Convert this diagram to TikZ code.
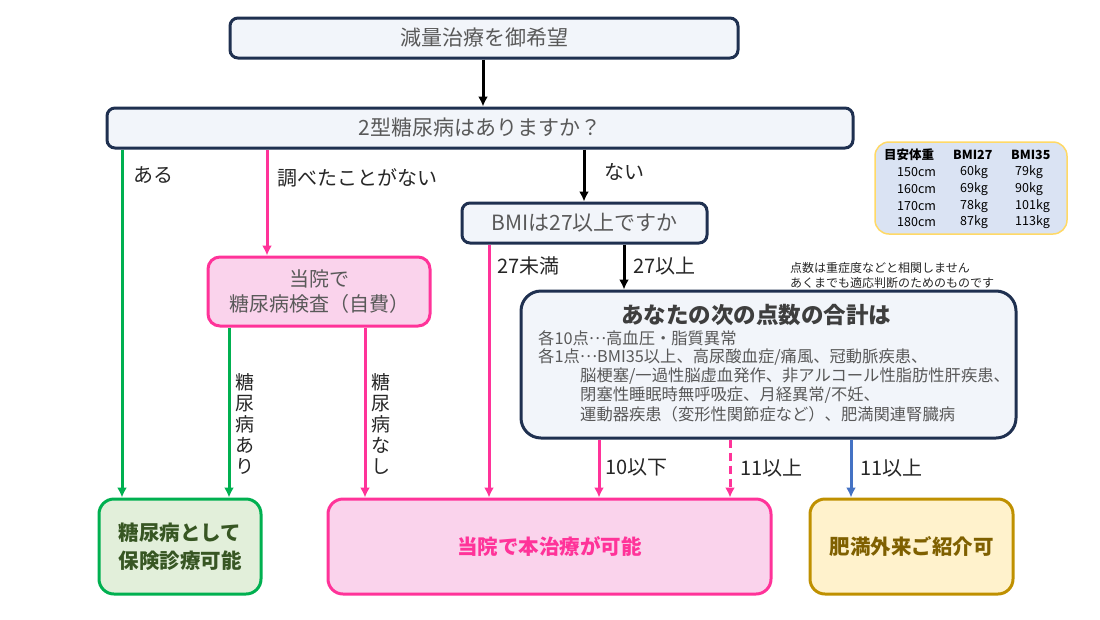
\documentclass[tikz,border=0pt]{standalone}
\usepackage{fontspec}
\setmainfont{Noto Sans CJK JP}
\usetikzlibrary{arrows.meta}
\definecolor{navy}{HTML}{1F3050}
\definecolor{boxfill}{HTML}{F2F5FA}
\definecolor{tgray}{HTML}{595959}
\definecolor{lgray}{HTML}{262626}
\definecolor{pinkc}{HTML}{FF3399}
\definecolor{pinkf}{HTML}{FAD3EC}
\definecolor{greenc}{HTML}{00B050}
\definecolor{greenf}{HTML}{E2EFDA}
\definecolor{greent}{HTML}{375623}
\definecolor{goldc}{HTML}{BF9000}
\definecolor{goldf}{HTML}{FFF2CC}
\definecolor{goldt}{HTML}{7F6000}
\definecolor{bluec}{HTML}{4472C4}
\definecolor{tablef}{HTML}{DAE3F3}
\definecolor{tableb}{HTML}{FFD966}
\newcommand{\fs}[2]{\fontsize{#1}{#2}\selectfont}
\newcommand{\mdts}{\raisebox{0.3em}{…}}
\tikzset{
  qbox/.style={draw=navy, line width=3pt, fill=boxfill, rounded corners=8pt, inner sep=0pt, text=tgray, font=\fs{21}{25}},
  pbox/.style={draw=pinkc, line width=3pt, fill=pinkf, rounded corners=12pt, inner sep=0pt},
  arr/.style={line width=3pt, -{Latex[length=10pt,width=10pt]}},
  lab/.style={text=lgray, font=\fs{20}{24}, anchor=west, inner sep=0pt},
  vlab/.style={text=lgray, font=\fs{19}{21}, align=center, inner sep=0pt},
  sline/.style={text=tgray, font=\fs{16.3}{19}, anchor=west, inner sep=0pt},
  tcell/.style={text=black, font=\fs{12.5}{15}, anchor=west, inner sep=0pt},
  note/.style={text=lgray, font=\fs{12}{14}, anchor=west, inner sep=0pt},
}
\begin{document}
\begin{tikzpicture}[x=1pt,y=-1pt]
\useasboundingbox (0,0) rectangle (1100,619);
% boxes
\node[qbox, minimum width=508pt, minimum height=40pt] (top) at (484,38) {減量治療を御希望};
\node[qbox, minimum width=746pt, minimum height=40pt] (q) at (480,128) {2型糖尿病はありますか？};
\node[qbox, minimum width=245pt, minimum height=40pt] (bmi) at (584.5,223) {BMIは27以上ですか};
\node[pbox, minimum width=222pt, minimum height=69pt, text=tgray, font=\fs{20}{25}, align=center] (test) at (319,291.5) {当院で\\糖尿病検査（自費）};
\node[qbox, rounded corners=20pt, minimum width=495pt, minimum height=147pt] (score) at (768.5,364.5) {};
\node[draw=greenc, line width=3pt, fill=greenf, rounded corners=15pt, minimum width=162pt, minimum height=95pt, inner sep=0pt, text=greent, font=\bfseries\fs{20.5}{28}, align=center] (g) at (180,546.5) {糖尿病として\\保険診療可能};
\node[pbox, rounded corners=15pt, minimum width=443pt, minimum height=95pt, text=pinkc, font=\bfseries\fs{20.5}{24}] (p) at (549.5,546.5) {当院で本治療が可能};
\node[draw=goldc, line width=3pt, fill=goldf, rounded corners=15pt, minimum width=203pt, minimum height=95pt, inner sep=0pt, text=goldt, font=\bfseries\fs{20.5}{24}] (o) at (911.5,546.5) {肥満外来ご紹介可};
\node[draw=tableb, line width=1.5pt, fill=tablef, rounded corners=14pt, minimum width=192pt, minimum height=92pt, inner sep=0pt] (tab) at (971,188) {};
% score box text
\node[text=tgray!70!black, font=\bfseries\fs{22.5}{26}, inner sep=0pt] (st) at (756,315) {あなたの次の点数の合計は};
\node[sline] (s1) at (538,338) {各10点\mdts 高血圧・脂質異常};
\node[sline] (s2) at (538,357) {各1点\mdts BMI35以上、高尿酸血症/痛風、冠動脈疾患、};
\node[sline] (s3) at (580,376) {脳梗塞/一過性脳虚血発作、非アルコール性脂肪性肝疾患、};
\node[sline] (s4) at (580,395) {閉塞性睡眠時無呼吸症、月経異常/不妊、};
\node[sline] (s5) at (580,414) {運動器疾患（変形性関節症など）、肥満関連腎臓病};
% note
\node[note] (n1) at (790,268) {点数は重症度などと相関しません};
\node[note] (n2) at (790,283) {あくまでも適応判断のためのものです};
% table
\node[tcell, font=\bfseries\fs{12.5}{15}] (h1) at (884,155) {目安体重};
\node[tcell, font=\bfseries\fs{12.5}{15}] (h2) at (953,155) {BMI27};
\node[tcell, font=\bfseries\fs{12.5}{15}] (h3) at (1011,155) {BMI35};
\node[tcell] (a1) at (897,172) {150cm};
\node[tcell] (a2) at (960,172) {60kg};
\node[tcell] (a3) at (1015,172) {79kg};
\node[tcell] (b1) at (897,189) {160cm};
\node[tcell] (b2) at (960,189) {69kg};
\node[tcell] (b3) at (1015,189) {90kg};
\node[tcell] (c1) at (897,206) {170cm};
\node[tcell] (c2) at (960,206) {78kg};
\node[tcell] (c3) at (1015,206) {101kg};
\node[tcell] (d1) at (897,222) {180cm};
\node[tcell] (d2) at (960,222) {87kg};
\node[tcell] (d3) at (1015,222) {113kg};
% x positions
\coordinate (x0) at (483,0);
\coordinate (x1) at (122,0);
\coordinate (x2) at (267,0);
\coordinate (x3) at (584,0);
\coordinate (x4) at (229,0);
\coordinate (x5) at (365,0);
\coordinate (x6) at (489,0);
\coordinate (x7) at (624,0);
\coordinate (x8) at (599,0);
\coordinate (x9) at (730,0);
\coordinate (x10) at (851,0);
% arrows
\draw[arr] (top.south -| x0) -- (q.north -| x0);
\draw[arr, greenc] (q.south -| x1) -- (g.north -| x1);
\draw[arr, pinkc] (q.south -| x2) -- (test.north -| x2);
\draw[arr] (q.south -| x3) -- (bmi.north -| x3);
\draw[arr, greenc] (test.south -| x4) -- (g.north -| x4);
\draw[arr, pinkc] (test.south -| x5) -- (p.north -| x5);
\draw[arr, pinkc] (bmi.south -| x6) -- (p.north -| x6);
\draw[arr] (bmi.south -| x7) -- (score.north -| x7);
\draw[arr, pinkc] (score.south -| x8) -- (p.north -| x8);
\draw[arr, pinkc, dash pattern=on 8pt off 5pt] (score.south -| x9) -- (p.north -| x9);
\draw[arr, bluec] (score.south -| x10) -- (o.north -| x10);
% labels
\node[lab] (l1) at (133,175) {ある};
\node[lab] (l2) at (277,178) {調べたことがない};
\node[lab] (l3) at (604,172) {ない};
\node[lab] (l4) at (497,266) {27未満};
\node[lab] (l5) at (633,266) {27以上};
\node[lab] (l6) at (605,467) {10以下};
\node[lab] (l7) at (740,468) {11以上};
\node[lab] (l8) at (860,468) {11以上};
\node[vlab] (v1) at (245,424) {糖\\尿\\病\\あ\\り};
\node[vlab] (v2) at (381,424) {糖\\尿\\病\\な\\し};
\end{tikzpicture}
\end{document}
